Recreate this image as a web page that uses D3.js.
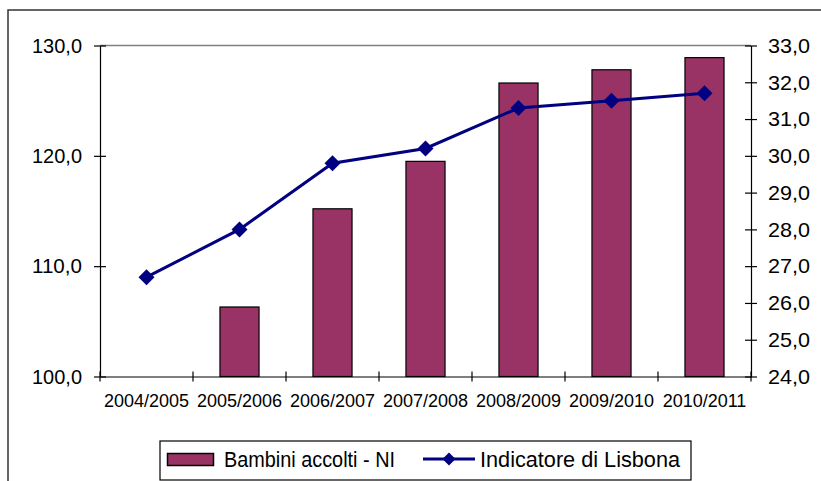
<!DOCTYPE html>
<html>
<head>
<meta charset="utf-8">
<script src="https://cdn.jsdelivr.net/npm/d3@7"></script>
<style>
  body { margin: 0; background: #fff; }
  text { font-family: "Liberation Sans", Arial, sans-serif; fill: #000; }
</style>
</head>
<body>
<div id="chart-area"></div>
<script>
// data
const anni = ["2004/2005", "2005/2006", "2006/2007", "2007/2008", "2008/2009", "2009/2010", "2010/2011"];
const bambini = [null, 106.3, 115.2, 119.5, 126.6, 127.8, 128.9];   // left axis (bars)
const lisbona = [26.7, 28.0, 29.8, 30.2, 31.3, 31.5, 31.7];         // right axis (line)
const leftTicks = [100, 110, 120, 130];
const rightTicks = [24, 25, 26, 27, 28, 29, 30, 31, 32, 33];
const legendNames = ["Bambini accolti - NI", "Indicatore di Lisbona"];

const width = 821, height = 481;
const plot = { left: 100, right: 751, top: 45.5, bottom: 376.5 };
const barColor = "#993366";
const lineColor = "#000080";

const svg = d3.select("#chart-area").append("svg")
    .attr("width", width).attr("height", height);

// outer chart frame (cut off by the window on right and bottom)
svg.append("rect")
    .attr("x", 8).attr("y", 10)
    .attr("width", width + 20).attr("height", height + 20)
    .attr("fill", "none").attr("stroke", "#333").attr("stroke-width", 1.5);

const comma = d3.formatLocale({ decimal: ",", thousands: ".", grouping: [3], currency: ["", "€"] }).format(".1f");

const x = d3.scaleBand().domain(anni).range([plot.left, plot.right]);
const yL = d3.scaleLinear().domain([100, 130]).range([plot.bottom, plot.top]);
const yR = d3.scaleLinear().domain([24, 33]).range([plot.bottom, plot.top]);

// top border of the plot area
svg.append("line")
    .attr("x1", plot.left).attr("x2", plot.right)
    .attr("y1", yL(130)).attr("y2", yL(130))
    .attr("stroke", "#808080").attr("stroke-width", 1.5);

// bars
const barW = x.bandwidth() * 0.42;
svg.append("g").selectAll("rect")
    .data(anni.map((d, i) => ({ name: d, value: bambini[i] })).filter(d => d.value != null))
    .enter().append("rect")
    .attr("x", d => x(d.name) + (x.bandwidth() - barW) / 2)
    .attr("y", d => yL(d.value))
    .attr("width", barW)
    .attr("height", d => yL(100) - yL(d.value))
    .attr("fill", barColor).attr("stroke", "#000").attr("stroke-width", 1.2);

// left axis
const gL = svg.append("g").attr("transform", "translate(" + plot.left + ",0)")
    .call(d3.axisLeft(yL).tickValues(leftTicks).tickFormat(comma).tickSizeOuter(0).tickPadding(12));
gL.selectAll(".tick line").attr("x1", -6).attr("x2", 6);
gL.selectAll("text").attr("font-size", "21px")
    .attr("textLength", 50).attr("lengthAdjust", "spacingAndGlyphs");

// right axis
const gR = svg.append("g").attr("transform", "translate(" + plot.right + ",0)")
    .call(d3.axisRight(yR).tickValues(rightTicks).tickFormat(comma).tickSizeOuter(0).tickPadding(11));
gR.selectAll(".tick line").attr("x1", -6).attr("x2", 6);
gR.selectAll("text").attr("font-size", "21px")
    .attr("textLength", 42).attr("lengthAdjust", "spacingAndGlyphs");

// bottom axis: ticks between the categories
const gX = svg.append("g").attr("transform", "translate(0," + plot.bottom + ")")
    .call(d3.axisBottom(x).tickSize(0).tickPadding(18));
gX.selectAll("text").attr("font-size", "18px");
gX.selectAll(".sep").data(anni.concat(["end"])).enter().append("line")
    .attr("class", "sep")
    .attr("x1", (d, i) => plot.left + i * x.bandwidth())
    .attr("x2", (d, i) => plot.left + i * x.bandwidth())
    .attr("y1", -5).attr("y2", 5).attr("stroke", "#000");

[gL, gR, gX].forEach(g => g.selectAll(".domain, line").attr("stroke", "#000").attr("stroke-width", 1.2));

// line series
const pts = anni.map((d, i) => [x(d) + x.bandwidth() / 2, yR(lisbona[i])]);
svg.append("path")
    .attr("d", d3.line()(pts))
    .attr("fill", "none").attr("stroke", lineColor).attr("stroke-width", 3);

const diamond = s => "M0," + (-s) + "L" + s + ",0L0," + s + "L" + (-s) + ",0Z";
svg.append("g").selectAll("path")
    .data(pts).enter().append("path")
    .attr("d", diamond(8))
    .attr("transform", d => "translate(" + d[0] + "," + d[1] + ")")
    .attr("fill", lineColor);

// legend
const legend = svg.append("g");
legend.append("rect")
    .attr("x", 160).attr("y", 441).attr("width", 531).attr("height", 39)
    .attr("fill", "#fff").attr("stroke", "#000").attr("stroke-width", 1.2);
legend.append("rect")
    .attr("x", 167.5).attr("y", 453.5).attr("width", 46).attr("height", 12)
    .attr("fill", barColor).attr("stroke", "#000").attr("stroke-width", 1.5);
legend.append("text").attr("x", 224).attr("y", 467).attr("font-size", "22px")
    .attr("textLength", 171).attr("lengthAdjust", "spacingAndGlyphs").text(legendNames[0]);
legend.append("line")
    .attr("x1", 423).attr("x2", 475).attr("y1", 459).attr("y2", 459)
    .attr("stroke", lineColor).attr("stroke-width", 3);
legend.append("path").attr("d", diamond(6.5)).attr("transform", "translate(449,459)").attr("fill", lineColor);
legend.append("text").attr("x", 480).attr("y", 467).attr("font-size", "22px")
    .attr("textLength", 200).attr("lengthAdjust", "spacingAndGlyphs").text(legendNames[1]);
</script>
</body>
</html>
